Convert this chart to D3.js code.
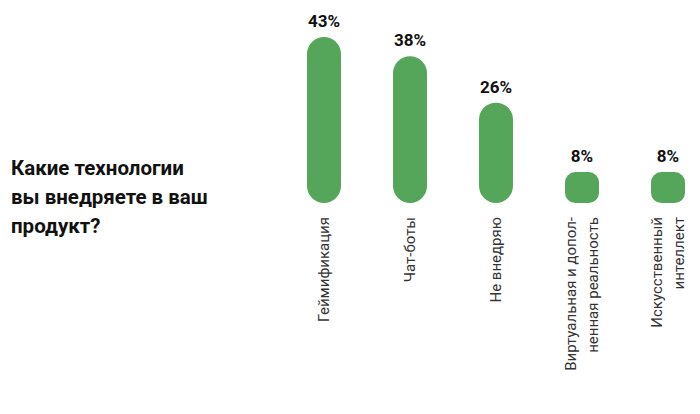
<!DOCTYPE html>
<html>
<head>
<meta charset="utf-8">
<script src="https://cdn.jsdelivr.net/npm/d3@7"></script>
<style>
  body { margin: 0; background: #fff; }
</style>
</head>
<body>
<svg id="chart"></svg>
<script>
// Data
const categories = ['Геймификация', 'Чат-боты', 'Не внедряю', 'Виртуальная и допол-\nненная реальность', 'Искусственный\nинтеллект'];
const values = [43, 38, 26, 8, 8];
const titleLines = ['Какие технологии', 'вы внедряете в ваш', 'продукт?'];

const width = 700, height = 414;
const barWidth = 34;
const baseY = 203;

let svg = d3.select('#chart')
    .attr('width', width)
    .attr('height', height);

// Title on the left
svg.append('text')
    .attr('x', 11)
    .attr('y', 175)
    .style('font-family', 'Roboto, sans-serif')
    .style('font-weight', 700)
    .style('font-size', '20.5px')
    .attr('fill', '#111')
  .selectAll('tspan')
    .data(titleLines)
    .enter()
    .append('tspan')
    .attr('x', 11)
    .attr('dy', (d, i) => i === 0 ? 0 : 29)
    .text(d => d);

// Scales
let x = d3.scalePoint()
    .domain(categories)
    .range([324, 668]);

let y = d3.scaleLinear()
    .domain([0, 43])
    .range([baseY, 37]);

// Bars
svg.selectAll('rect.bar')
    .data(values)
    .enter()
    .append('rect')
    .attr('class', 'bar')
    .attr('x', (d, i) => x(categories[i]) - barWidth / 2)
    .attr('y', d => y(d))
    .attr('width', barWidth)
    .attr('height', d => baseY - y(d))
    .attr('rx', d => Math.min(barWidth / 2, (baseY - y(d)) / 3))
    .attr('fill', '#55a65a');

// Percentage labels
svg.selectAll('text.value')
    .data(values)
    .enter()
    .append('text')
    .attr('class', 'value')
    .attr('x', (d, i) => x(categories[i]))
    .attr('y', d => y(d) - 10)
    .attr('text-anchor', 'middle')
    .style('font-family', 'Roboto, sans-serif')
    .style('font-weight', 700)
    .style('font-size', '17px')
    .attr('fill', '#111')
    .text(d => d + '%');

// Rotated category labels
let labels = svg.selectAll('g.cat')
    .data(categories)
    .enter()
    .append('g')
    .attr('class', 'cat')
    .attr('transform', d => 'translate(' + x(d) + ',' + (baseY + 14) + ') rotate(-90)');

labels.each(function(d) {
    let lines = d.split('\n');
    let t = d3.select(this).append('text')
        .attr('text-anchor', 'end')
        .style('font-family', 'Roboto, sans-serif')
        .style('font-size', '15px')
        .attr('fill', '#333');
    lines.forEach((line, i) => {
        t.append('tspan')
            .attr('x', 0)
            .attr('y', (i - (lines.length - 1) / 2) * 22)
            .attr('dy', '0.35em')
            .text(line);
    });
});
</script>
</body>
</html>
